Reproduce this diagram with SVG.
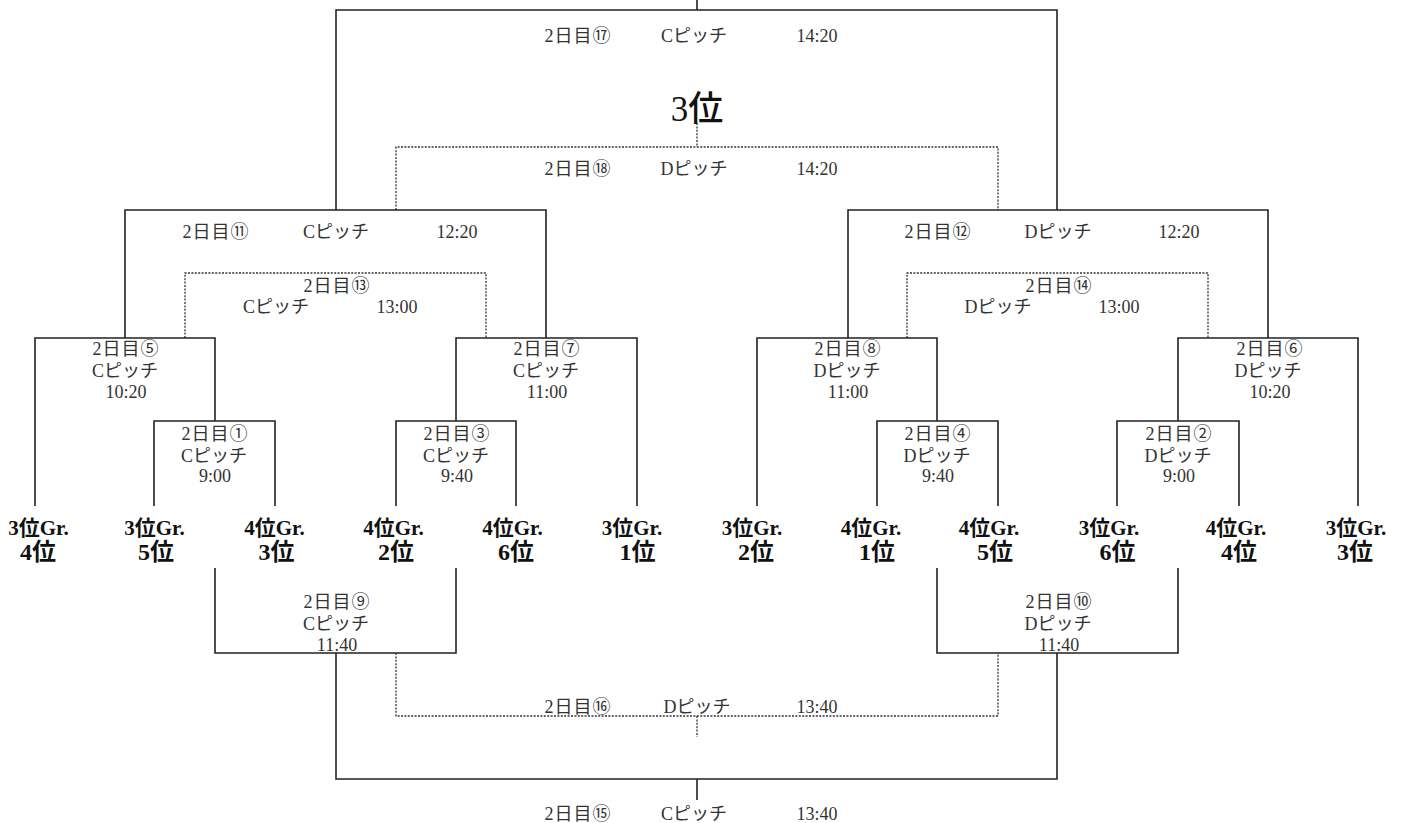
<svg xmlns="http://www.w3.org/2000/svg" width="1402" height="823" viewBox="0 0 1402 823">
<style>
.ln{fill:none;stroke:#222;stroke-width:1.6}
.dt{fill:none;stroke:#333;stroke-width:1.3;stroke-dasharray:2 1.4}
.t{font-family:"Liberation Serif","Noto Sans CJK JP",serif;font-size:18px;fill:#333;text-anchor:middle}
.n{letter-spacing:1px}
.g1{font-family:"Liberation Serif","Noto Sans CJK JP",serif;font-size:21px;font-weight:bold;fill:#111;text-anchor:middle}
.g2{font-family:"Liberation Serif","Noto Sans CJK JP",serif;font-size:24px;font-weight:bold;fill:#111;text-anchor:middle}
.big{font-family:"Liberation Serif","Noto Sans CJK JP",serif;font-size:35px;font-weight:500;fill:#111;text-anchor:middle}
</style>
<rect width="1402" height="823" fill="#fff"/>
<g id="connectors">
  <path class="ln" d="M697 0V10M336 210V10H1057V210"/>
  <path class="dt" d="M697 123V147M396 210V147H998V210"/>
  <path class="ln" d="M125 338V210H546V338"/>
  <path class="ln" d="M848 338V210H1268V338"/>
  <path class="dt" d="M185 338V273H486V338"/>
  <path class="dt" d="M907 338V273H1208V338"/>
  <path class="ln" d="M35 506V338H215V421"/>
  <path class="ln" d="M456 421V338H637V506"/>
  <path class="ln" d="M757 506V338H937V421"/>
  <path class="ln" d="M1178 421V338H1358V506"/>
  <path class="ln" d="M154 506V421H275V506"/>
  <path class="ln" d="M396 506V421H516V506"/>
  <path class="ln" d="M877 506V421H998V506"/>
  <path class="ln" d="M1117 506V421H1239V506"/>
  <path class="ln" d="M215 568V653H456V568"/>
  <path class="ln" d="M937 568V653H1178V568"/>
  <path class="ln" d="M336 653V779H1057V653M697 779V800"/>
  <path class="dt" d="M396 653V716H998V653M697 716V737"/>
</g>
<g id="m17"><text class="t n" x="578" y="42">2日目⑰</text><text class="t" x="694" y="42">Cピッチ</text><text class="t" x="817" y="42">14:20</text></g>
<g id="third"><text class="big" x="697" y="121">3位</text></g>
<g id="m18"><text class="t n" x="578" y="175">2日目⑱</text><text class="t" x="694" y="175">Dピッチ</text><text class="t" x="817" y="175">14:20</text></g>
<g id="m11"><text class="t n" x="216" y="238">2日目⑪</text><text class="t" x="336" y="238">Cピッチ</text><text class="t" x="457" y="238">12:20</text></g>
<g id="m12"><text class="t n" x="938" y="238">2日目⑫</text><text class="t" x="1058" y="238">Dピッチ</text><text class="t" x="1179" y="238">12:20</text></g>
<g id="m13"><text class="t n" x="337" y="292">2日目⑬</text><text class="t" x="276" y="313">Cピッチ</text><text class="t" x="397" y="313">13:00</text></g>
<g id="m14"><text class="t n" x="1059" y="292">2日目⑭</text><text class="t" x="998" y="313">Dピッチ</text><text class="t" x="1119" y="313">13:00</text></g>
<g id="m5"><text class="t n" x="126" y="355">2日目⑤</text><text class="t" x="125" y="377">Cピッチ</text><text class="t" x="126" y="398">10:20</text></g>
<g id="m7"><text class="t n" x="547" y="355">2日目⑦</text><text class="t" x="546" y="377">Cピッチ</text><text class="t" x="547" y="398">11:00</text></g>
<g id="m8"><text class="t n" x="848" y="355">2日目⑧</text><text class="t" x="847" y="377">Dピッチ</text><text class="t" x="848" y="398">11:00</text></g>
<g id="m6"><text class="t n" x="1270" y="355">2日目⑥</text><text class="t" x="1268" y="377">Dピッチ</text><text class="t" x="1270" y="398">10:20</text></g>
<g id="m1"><text class="t n" x="215" y="440">2日目①</text><text class="t" x="214" y="462">Cピッチ</text><text class="t" x="215" y="482">9:00</text></g>
<g id="m3"><text class="t n" x="457" y="440">2日目③</text><text class="t" x="456" y="462">Cピッチ</text><text class="t" x="457" y="482">9:40</text></g>
<g id="m4"><text class="t n" x="938" y="440">2日目④</text><text class="t" x="937" y="462">Dピッチ</text><text class="t" x="938" y="482">9:40</text></g>
<g id="m2"><text class="t n" x="1179" y="440">2日目②</text><text class="t" x="1178" y="462">Dピッチ</text><text class="t" x="1179" y="482">9:00</text></g>
<g id="m9"><text class="t n" x="337" y="608">2日目⑨</text><text class="t" x="336" y="630">Cピッチ</text><text class="t" x="337" y="651">11:40</text></g>
<g id="m10"><text class="t n" x="1059" y="608">2日目⑩</text><text class="t" x="1058" y="630">Dピッチ</text><text class="t" x="1059" y="651">11:40</text></g>
<g id="m16"><text class="t n" x="578" y="713">2日目⑯</text><text class="t" x="697" y="713">Dピッチ</text><text class="t" x="817" y="713">13:40</text></g>
<g id="m15"><text class="t n" x="578" y="820">2日目⑮</text><text class="t" x="694" y="820">Cピッチ</text><text class="t" x="817" y="820">13:40</text></g>
<g id="team1"><text class="g1" x="38.5" y="535">3位Gr.</text><text class="g2" x="38" y="560">4位</text></g>
<g id="team2"><text class="g1" x="154.5" y="535">3位Gr.</text><text class="g2" x="156" y="560">5位</text></g>
<g id="team3"><text class="g1" x="274.5" y="535">4位Gr.</text><text class="g2" x="276.5" y="560">3位</text></g>
<g id="team4"><text class="g1" x="393.5" y="535">4位Gr.</text><text class="g2" x="396" y="560">2位</text></g>
<g id="team5"><text class="g1" x="512.5" y="535">4位Gr.</text><text class="g2" x="516" y="560">6位</text></g>
<g id="team6"><text class="g1" x="632" y="535">3位Gr.</text><text class="g2" x="637.5" y="560">1位</text></g>
<g id="team7"><text class="g1" x="752" y="535">3位Gr.</text><text class="g2" x="756" y="560">2位</text></g>
<g id="team8"><text class="g1" x="871" y="535">4位Gr.</text><text class="g2" x="877" y="560">1位</text></g>
<g id="team9"><text class="g1" x="989" y="535">4位Gr.</text><text class="g2" x="995" y="560">5位</text></g>
<g id="team10"><text class="g1" x="1109" y="535">3位Gr.</text><text class="g2" x="1117.5" y="560">6位</text></g>
<g id="team11"><text class="g1" x="1236" y="535">4位Gr.</text><text class="g2" x="1239" y="560">4位</text></g>
<g id="team12"><text class="g1" x="1356" y="535">3位Gr.</text><text class="g2" x="1355" y="560">3位</text></g>
</svg>
